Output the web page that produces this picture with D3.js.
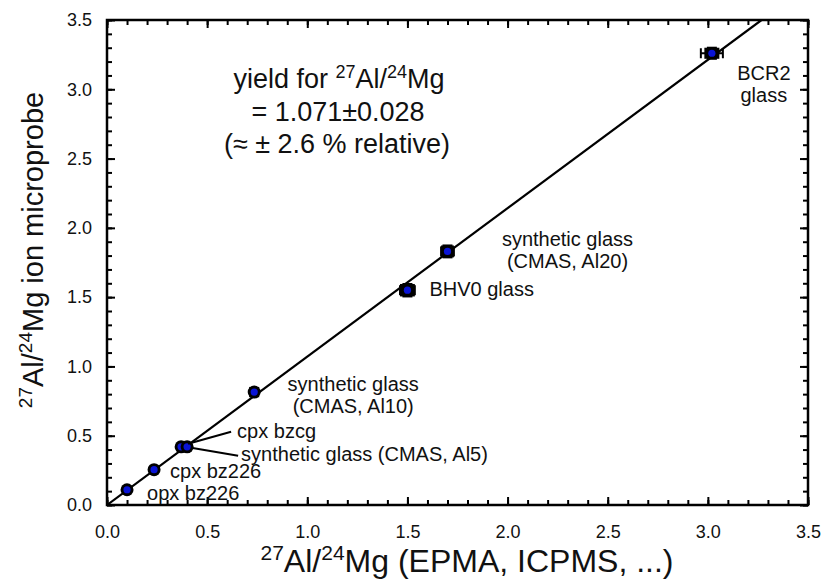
<!DOCTYPE html>
<html>
<head>
<meta charset="utf-8">
<script src="https://cdn.jsdelivr.net/npm/d3@7"></script>
<style>
  html, body { margin: 0; padding: 0; background: #fff; }
  svg { display: block; font-family: "Liberation Sans", Arial, Helvetica, sans-serif; }
  text { fill: #111; }
</style>
</head>
<body>
<svg id="chart" width="835" height="581"></svg>
<script>
// Reference materials: bulk ratio (EPMA, ICPMS, ...) vs ion microprobe ratio
const samples = ["opx bz226", "cpx bz226", "cpx bzcg", "synthetic glass (CMAS, Al5)",
                 "synthetic glass (CMAS, Al10)", "BHV0 glass", "synthetic glass (CMAS, Al20)", "BCR2 glass"];
const bulkRatio  = [0.10, 0.235, 0.37, 0.40, 0.735, 1.50, 1.70, 3.02];
const probeRatio = [0.11, 0.255, 0.42, 0.42, 0.815, 1.55, 1.83, 3.26];
const bulkErr    = [0.010, 0.010, 0.015, 0.015, 0.015, 0.037, 0.032, 0.055];
const probeErr   = [0.010, 0.015, 0.015, 0.015, 0.030, 0.045, 0.043, 0.040];

// Fitted yield (slope through the origin)
const yieldSlope = 1.071;
const yieldErr = 0.028;
const yieldRel = 2.6;

const axisMax = 3.5;
const majorTicks = [0, 0.5, 1.0, 1.5, 2.0, 2.5, 3.0, 3.5];
const minorTicks = d3.range(0, 36).map(i => i / 10);

// Label layout: pixel offsets from each point, optional leader line
const labelLayout = [
  { lines: ["opx bz226"], dx: 20, dy: 10, anchor: "start" },
  { lines: ["cpx bz226"], dx: 16, dy: 8, anchor: "start" },
  { lines: ["cpx bzcg"], dx: 56, dy: -9, anchor: "start", leader: [[7, -3], [50, -15]] },
  { lines: ["synthetic glass (CMAS, Al5)"], dx: 54, dy: 14, anchor: "start", leader: [[4, 1], [51, 9]] },
  { lines: ["synthetic glass", "(CMAS, Al10)"], dx: 99, dy: -1, anchor: "middle" },
  { lines: ["BHV0 glass"], dx: 22, dy: 6, anchor: "start" },
  { lines: ["synthetic glass", "(CMAS, Al20)"], dx: 120, dy: -5, anchor: "middle" },
  { lines: ["BCR2", "glass"], dx: 52, dy: 27, anchor: "middle" }
];

const svg = d3.select("#chart");
const margin = { left: 107, right: 27, top: 20, bottom: 76 };
const W = 835, H = 581;
const x = d3.scaleLinear().domain([0, axisMax]).range([margin.left, W - margin.right]);
const y = d3.scaleLinear().domain([0, axisMax]).range([H - margin.bottom, margin.top]);

const tickFont = 18;

function drawAxis(axisGen, transform, showLabels, tickValues, size) {
  const g = svg.append("g").attr("transform", transform)
    .call(axisGen.tickValues(tickValues).tickSize(size).tickSizeOuter(0)
      .tickFormat(showLabels ? d3.format(".1f") : () => ""));
  g.select(".domain").remove();
  g.selectAll(".tick line").attr("stroke", "#000").attr("stroke-width", 2);
  g.selectAll("text").attr("font-size", tickFont).attr("fill", "#111")
    .attr("font-family", "Liberation Sans, Arial, sans-serif");
  return g;
}

const x0 = x(0), x1 = x(axisMax), y0 = y(0), y1 = y(axisMax);

// minor ticks on all four sides (pointing inward)
drawAxis(d3.axisBottom(x), `translate(0,${y0})`, false, minorTicks, -5);
drawAxis(d3.axisTop(x), `translate(0,${y1})`, false, minorTicks, -5);
drawAxis(d3.axisLeft(y), `translate(${x0},0)`, false, minorTicks, -5);
drawAxis(d3.axisRight(y), `translate(${x1},0)`, false, minorTicks, -5);
// major ticks with labels
drawAxis(d3.axisBottom(x).tickPadding(20), `translate(0,${y0})`, true, majorTicks, -8);
drawAxis(d3.axisTop(x), `translate(0,${y1})`, false, majorTicks, -8);
drawAxis(d3.axisLeft(y).tickPadding(15), `translate(${x0},0)`, true, majorTicks, -8);
drawAxis(d3.axisRight(y), `translate(${x1},0)`, false, majorTicks, -8);

// plot frame
svg.append("rect")
  .attr("x", x0).attr("y", y1).attr("width", x1 - x0).attr("height", y0 - y1)
  .attr("fill", "none").attr("stroke", "#000").attr("stroke-width", 2.5);

// yield line through the origin
svg.append("defs").append("clipPath").attr("id", "plotClip")
  .append("rect").attr("x", x0).attr("y", y1).attr("width", x1 - x0).attr("height", y0 - y1);
const xEnd = Math.min(axisMax, axisMax / yieldSlope);
svg.append("line")
  .attr("clip-path", "url(#plotClip)")
  .attr("x1", x(0)).attr("y1", y(0))
  .attr("x2", x(xEnd)).attr("y2", y(xEnd * yieldSlope))
  .attr("stroke", "#000").attr("stroke-width", 2.2);

// data points: error bars, black box, blue centre
const pts = samples.map((s, i) => ({
  name: s, bx: bulkRatio[i], py: probeRatio[i], ex: bulkErr[i], ey: probeErr[i], lay: labelLayout[i]
}));

const gp = svg.append("g");
pts.forEach(d => {
  const cx = x(d.bx), cy = y(d.py);
  const exPx = x(d.bx + d.ex) - cx, eyPx = cy - y(d.py + d.ey);
  const hw = Math.max(5, Math.min(exPx, 7.5)), hh = Math.max(5, Math.min(eyPx, 6.5));
  const g = gp.append("g");
  // horizontal error bar with caps
  g.append("line").attr("x1", x(d.bx - d.ex)).attr("x2", x(d.bx + d.ex))
    .attr("y1", cy).attr("y2", cy).attr("stroke", "#000").attr("stroke-width", 2);
  [d.bx - d.ex, d.bx + d.ex].forEach(v => g.append("line")
    .attr("x1", x(v)).attr("x2", x(v)).attr("y1", cy - 5).attr("y2", cy + 5)
    .attr("stroke", "#000").attr("stroke-width", 2));
  // vertical error bar with caps
  g.append("line").attr("x1", cx).attr("x2", cx)
    .attr("y1", y(d.py - d.ey)).attr("y2", y(d.py + d.ey)).attr("stroke", "#000").attr("stroke-width", 2);
  [d.py - d.ey, d.py + d.ey].forEach(v => g.append("line")
    .attr("x1", cx - 5).attr("x2", cx + 5).attr("y1", y(v)).attr("y2", y(v))
    .attr("stroke", "#000").attr("stroke-width", 2));
  if (d.ex > 0.02) {
    g.append("rect").attr("x", cx - hw).attr("y", cy - hh)
      .attr("width", 2 * hw).attr("height", 2 * hh).attr("fill", "#000");
  } else {
    g.append("circle").attr("cx", cx).attr("cy", cy).attr("r", 6.5).attr("fill", "#000");
  }
  g.append("circle").attr("cx", cx).attr("cy", cy).attr("r", 3.6).attr("fill", "#0a14d6");
});

// point labels
const labelFont = 20;
pts.forEach(d => {
  const cx = x(d.bx), cy = y(d.py), L = d.lay;
  if (L.leader) {
    svg.append("line")
      .attr("x1", cx + L.leader[0][0]).attr("y1", cy + L.leader[0][1])
      .attr("x2", cx + L.leader[1][0]).attr("y2", cy + L.leader[1][1])
      .attr("stroke", "#000").attr("stroke-width", 2);
  }
  const t = svg.append("text")
    .attr("x", cx + L.dx).attr("y", cy + L.dy)
    .attr("text-anchor", L.anchor).attr("font-size", labelFont);
  L.lines.forEach((ln, k) => t.append("tspan")
    .attr("x", cx + L.dx).attr("dy", k === 0 ? 0 : "1.1em").text(ln));
});

// ratio label with superscript isotopes
function ratioText(sel, size, after) {
  const sup = Math.round(size * 0.66), rise = Math.round(size * 0.38);
  sel.append("tspan").attr("font-size", sup).attr("dy", -rise).text("27");
  sel.append("tspan").attr("font-size", size).attr("dy", rise).text("Al/");
  sel.append("tspan").attr("font-size", sup).attr("dy", -rise).text("24");
  sel.append("tspan").attr("font-size", size).attr("dy", rise).text("Mg" + after);
}

// yield annotation
const annFont = 27;
const ann = svg.append("g").attr("font-size", annFont).attr("text-anchor", "middle");
const l1 = ann.append("text").attr("x", 339).attr("y", 88).attr("font-size", annFont);
l1.append("tspan").text("yield for ");
ratioText(l1, annFont, "");
ann.append("text").attr("x", 338).attr("y", 121)
  .text(`= ${yieldSlope.toFixed(3)}±${yieldErr.toFixed(3)}`);
ann.append("text").attr("x", 337).attr("y", 153)
  .text(`(≈ ± ${yieldRel} % relative)`);

// axis titles
const xt = svg.append("text").attr("x", 467).attr("y", 572)
  .attr("text-anchor", "middle").attr("font-size", 32);
ratioText(xt, 32, " (EPMA, ICPMS, ...)");

const yt = svg.append("text").attr("transform", "translate(43,250) rotate(-90)")
  .attr("text-anchor", "middle").attr("font-size", 29);
ratioText(yt, 29, " ion microprobe");
</script>
</body>
</html>
